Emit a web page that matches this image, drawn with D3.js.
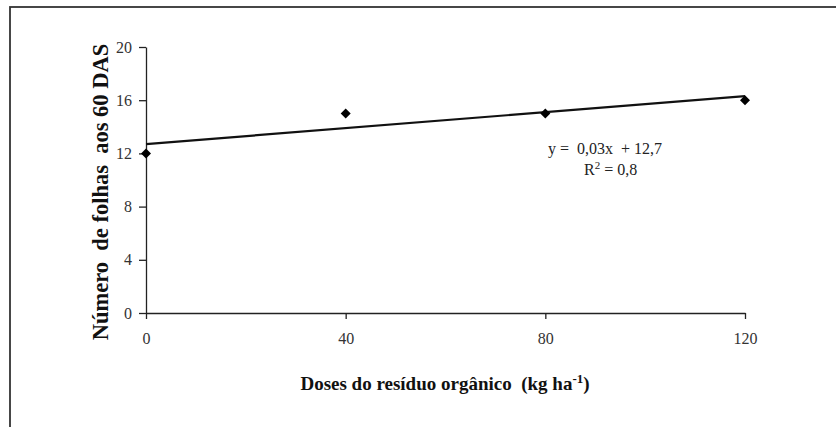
<!DOCTYPE html>
<html>
<head>
<meta charset="utf-8">
<script src="https://cdn.jsdelivr.net/npm/d3@7"></script>
<style>
  html, body { margin: 0; padding: 0; background: #fff; }
  svg { display: block; }
</style>
</head>
<body>
<svg id="chart" width="836" height="427"></svg>
<script>
// Doses of organic residue (kg/ha) and leaf count at 60 DAS
const doses = [0, 40, 80, 120];
const folhas = [12, 15, 15, 16];
const xTicks = [0, 40, 80, 120];
const yTicks = [0, 4, 8, 12, 16, 20];
// Linear trend: y = 0,03x + 12,7
const slope = 0.03;
const intercept = 12.7;

const svg = d3.select("#chart");
const serif = "'Liberation Serif', 'Times New Roman', serif";

// outer frame
svg.append("rect")
  .attr("x", 10).attr("y", 7)
  .attr("width", 840).attr("height", 440)
  .attr("fill", "none")
  .attr("stroke", "#333").attr("stroke-width", 1.8);

const x = d3.scaleLinear().domain([0, 120]).range([146, 745]);
const y = d3.scaleLinear().domain([0, 20]).range([313, 47]);

const xAxis = svg.append("g")
  .attr("transform", `translate(0,${y(0)})`)
  .call(d3.axisBottom(x).tickValues(xTicks).tickSize(6).tickPadding(14).tickSizeOuter(0));
const yAxis = svg.append("g")
  .attr("transform", `translate(${x(0)},0)`)
  .call(d3.axisLeft(y).tickValues(yTicks).tickSize(7).tickPadding(7).tickSizeOuter(0));

[xAxis, yAxis].forEach(g => {
  g.select(".domain").attr("stroke", "#222").attr("stroke-width", 1.3);
  g.selectAll(".tick line").attr("stroke", "#222").attr("stroke-width", 1.3);
  g.selectAll(".tick text")
    .attr("fill", "#333")
    .style("font-family", serif)
    .style("font-size", "16px");
});

// trend line
svg.append("line")
  .attr("x1", x(0)).attr("y1", y(intercept))
  .attr("x2", x(120)).attr("y2", y(slope * 120 + intercept))
  .attr("stroke", "#111").attr("stroke-width", 2.2);

// observed points (diamonds)
svg.append("g").selectAll("path")
  .data(doses.map((d, i) => [d, folhas[i]]))
  .join("path")
  .attr("transform", d => `translate(${x(d[0])},${y(d[1])})`)
  .attr("d", "M0,-5L5,0L0,5L-5,0Z")
  .attr("fill", "#000");

// equation
const eq = svg.append("g")
  .style("font-family", serif).style("font-size", "16px").attr("fill", "#222");
eq.append("text").attr("x", 548).attr("y", 154)
  .attr("xml:space", "preserve")
  .text("y =  0,03x  + 12,7");
const r2 = eq.append("text").attr("x", 584).attr("y", 175);
r2.append("tspan").text("R");
r2.append("tspan").attr("dy", -6).style("font-size", "11px").text("2");
r2.append("tspan").attr("dy", 6).text(" = 0,8");

// axis titles
const xt = svg.append("text")
  .attr("x", 445).attr("y", 390)
  .attr("text-anchor", "middle")
  .attr("xml:space", "preserve")
  .style("font-family", serif).style("font-size", "19px").style("font-weight", "bold")
  .attr("fill", "#111");
xt.append("tspan").text("Doses do resíduo orgânico  (kg ha");
xt.append("tspan").attr("dy", -7).style("font-size", "13px").text("-1");
xt.append("tspan").attr("dy", 7).text(")");

svg.append("text")
  .attr("transform", "translate(108,192) rotate(-90)")
  .attr("text-anchor", "middle")
  .style("font-family", serif).style("font-size", "22.5px").style("font-weight", "bold")
  .attr("fill", "#111")
  .attr("xml:space", "preserve")
  .text("Número  de folhas  aos 60 DAS");
</script>
</body>
</html>
